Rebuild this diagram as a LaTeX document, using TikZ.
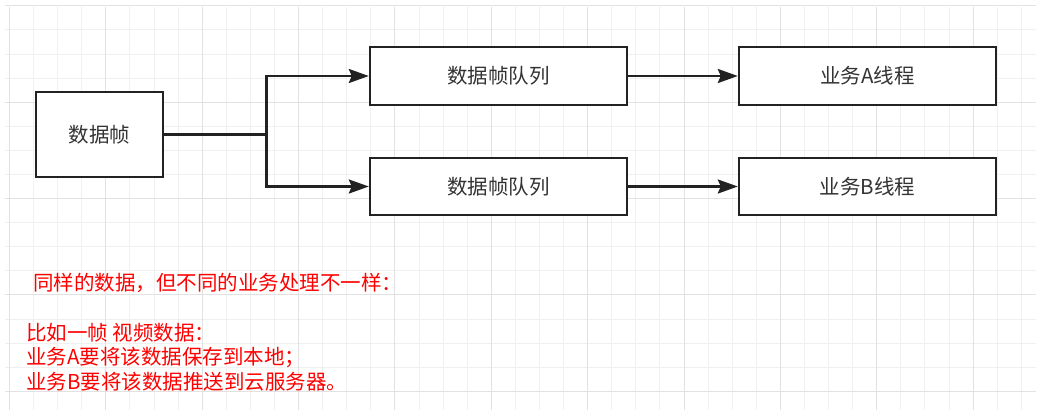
\documentclass[tikz,border=0pt]{standalone}
\usepackage{fontspec}
\newfontfamily\cjk{Noto Sans CJK SC}
\usetikzlibrary{arrows.meta}
\definecolor{gridminor}{HTML}{F0F0F0}
\definecolor{gridmajor}{HTML}{E2E2E2}
\definecolor{boxtext}{HTML}{333333}
\definecolor{linecol}{HTML}{222222}
\tikzset{
  boxnode/.style={draw=linecol, line width=2.4pt, fill=white, inner sep=0pt,
    font=\cjk\fontsize{20.5}{24}\selectfont, text=boxtext},
  conn/.style={draw=linecol, line width=2.4pt},
  arr/.style={conn, -{Stealth[length=20pt, width=14pt, inset=3pt]}},
  note/.style={anchor=base west, inner sep=0pt, text=red,
    font=\cjk\fontsize{20.5}{24}\selectfont}
}
\begin{document}
\begin{tikzpicture}[x=1pt, y=-1pt]
\useasboundingbox (0,0) rectangle (1052,415);
\fill[white] (0,0) rectangle (1052,415);
% grid
\foreach \k in {0,...,42} {
  \draw[gridminor, line width=1pt] ({9.5+24.09*\k},7) -- ({9.5+24.09*\k},410);
}
\foreach \k in {0,...,16} {
  \draw[gridminor, line width=1pt] (5,{5.9+24.09*\k}) -- (1036,{5.9+24.09*\k});
}
\foreach \k in {0,4,...,40} {
  \draw[gridmajor, line width=1pt] ({9.5+24.09*\k},7) -- ({9.5+24.09*\k},410);
}
\foreach \k in {0,4,...,16} {
  \draw[gridmajor, line width=1pt] (5,{5.9+24.09*\k}) -- (1036,{5.9+24.09*\k});
}
% boxes
\node[boxnode, minimum width=127pt, minimum height=85pt] (src) at (99.5,134.5) {数据帧};
\node[boxnode, minimum width=257pt, minimum height=58pt] (q1) at (498.5,76) {数据帧队列};
\node[boxnode, minimum width=257pt, minimum height=57pt] (q2) at (498.5,186.5) {数据帧队列};
\node[boxnode, minimum width=257pt, minimum height=58pt] (ta) at (867.5,76) {业务A线程};
\node[boxnode, minimum width=257pt, minimum height=57pt] (tb) at (867.5,186.5) {业务B线程};
% connectors
\coordinate (j) at (266.5,134.5);
\draw[conn] (src.east) -- (j);
\draw[arr] (j) |- (q1.west);
\draw[arr] (j) |- (q2.west);
\draw[arr] (q1.east) -- (ta.west);
\draw[arr] (q2.east) -- (tb.west);
% notes
\node[note] (n1) at (33,290) {同样的数据，但不同的业务处理不一样：};
\node[note] (n2) at (26,340) {比如一帧 视频数据：};
\node[note] (n3) at (26,364.5) {业务A要将该数据保存到本地；};
\node[note] (n4) at (26,389) {业务B要将该数据推送到云服务器。};
\end{tikzpicture}
\end{document}
